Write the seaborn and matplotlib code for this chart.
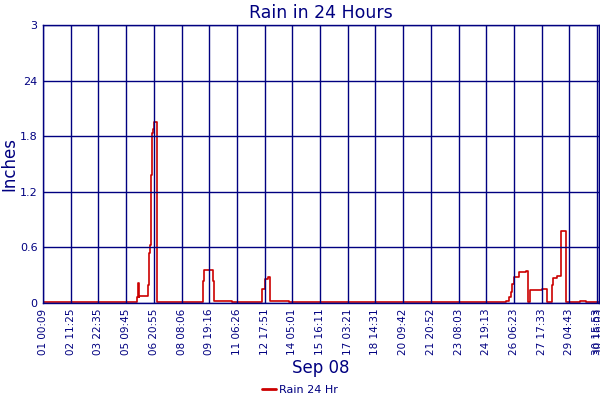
import numpy as np
import pandas as pd
from matplotlib import pyplot as plt
from matplotlib.lines import Line2D
import seaborn as sns

# hours since 01 00:09 and 24 hr rain in inches
hours = [0.0, 119.0, 120.5, 121.3, 122.5, 133.3, 135.0, 136.3, 137.5, 138.8,
         140.1, 141.4, 145.2,
         203.6, 204.9, 216.3, 217.6, 240.4,
         278.5, 281.9, 286.1, 288.7, 312.8,
         588.0, 591.8, 594.0, 596.0, 598.2, 604.9, 613.4, 616.3, 618.1,
         634.1, 636.3, 640.5, 646.8, 648.1, 652.4, 657.9, 664.2, 682.0,
         689.2, 706.1]
rain = [0.01, 0.07, 0.22, 0.07, 0.08, 0.19, 0.54, 0.63, 1.38, 1.83,
        1.88, 1.95, 0.01,
        0.24, 0.36, 0.24, 0.02, 0.01,
        0.15, 0.255, 0.28, 0.02, 0.01,
        0.025, 0.07, 0.12, 0.205, 0.285, 0.33, 0.35, 0.01, 0.14,
        0.15, 0.155, 0.015, 0.195, 0.27, 0.295, 0.78, 0.01, 0.02,
        0.01, 0.01]

tick_labels = ['01 00:09', '02 11:25', '03 22:35', '05 09:45', '06 20:55',
               '08 08:06', '09 19:16', '11 06:26', '12 17:51', '14 05:01',
               '15 16:11', '17 03:21', '18 14:31', '20 09:42', '21 20:52',
               '23 08:03', '24 19:13', '26 06:23', '27 17:33', '29 04:43',
               '30 15:53', '30 16:03']
tick_hours = [i * 35.18 for i in range(21)] + [706.1]
y_ticks = [0, 0.6, 1.2, 1.8, 2.4, 3]
y_labels = ['0', '0.6', '1.2', '1.8', '24', '3']

navy = '#000080'
red = '#cc0000'

sns.set_style('white')
plt.rcParams['font.family'] = ['DejaVu Sans']

df = pd.DataFrame({'hours': hours, 'rain': rain})

fig = plt.figure(figsize=(6, 4), dpi=100)
ax = fig.add_axes([43/600, 1-303/400, 556/600, 278/400])

sns.lineplot(data=df, x='hours', y='rain', ax=ax, color=red, lw=1.2,
             drawstyle='steps-post', estimator=None, sort=False, zorder=1)

ax.set_xlim(0, 706.1)
ax.set_ylim(0, 3)
ax.set_xticks(tick_hours)
ax.set_xticklabels(tick_labels, rotation=90, fontsize=7.5, color=navy)
ax.set_yticks(y_ticks)
ax.set_yticklabels(y_labels, fontsize=8, color=navy)
ax.tick_params(length=0, pad=4)
ax.set_axisbelow(False)
ax.grid(True, color=navy, lw=1)
for s in ax.spines.values():
    s.set_color(navy)
    s.set_linewidth(1)

ax.set_title('Rain in 24 Hours', color=navy, fontsize=12.5, pad=5)
ax.set_ylabel('Inches', color=navy, fontsize=12)
ax.yaxis.set_label_coords(-0.045, 0.5)
ax.set_xlabel('Sep 08', color=navy, fontsize=12)
ax.xaxis.set_label_coords(0.5, -0.2)

handle = Line2D([], [], color=red, lw=2)
fig.legend([handle], ['Rain 24 Hr'], loc='center', bbox_to_anchor=(0.5, 1 - 390/400),
           frameon=False, fontsize=8, handlelength=1.2, handletextpad=0.3,
           labelcolor=navy)

fig.savefig('out.png', dpi=100)
